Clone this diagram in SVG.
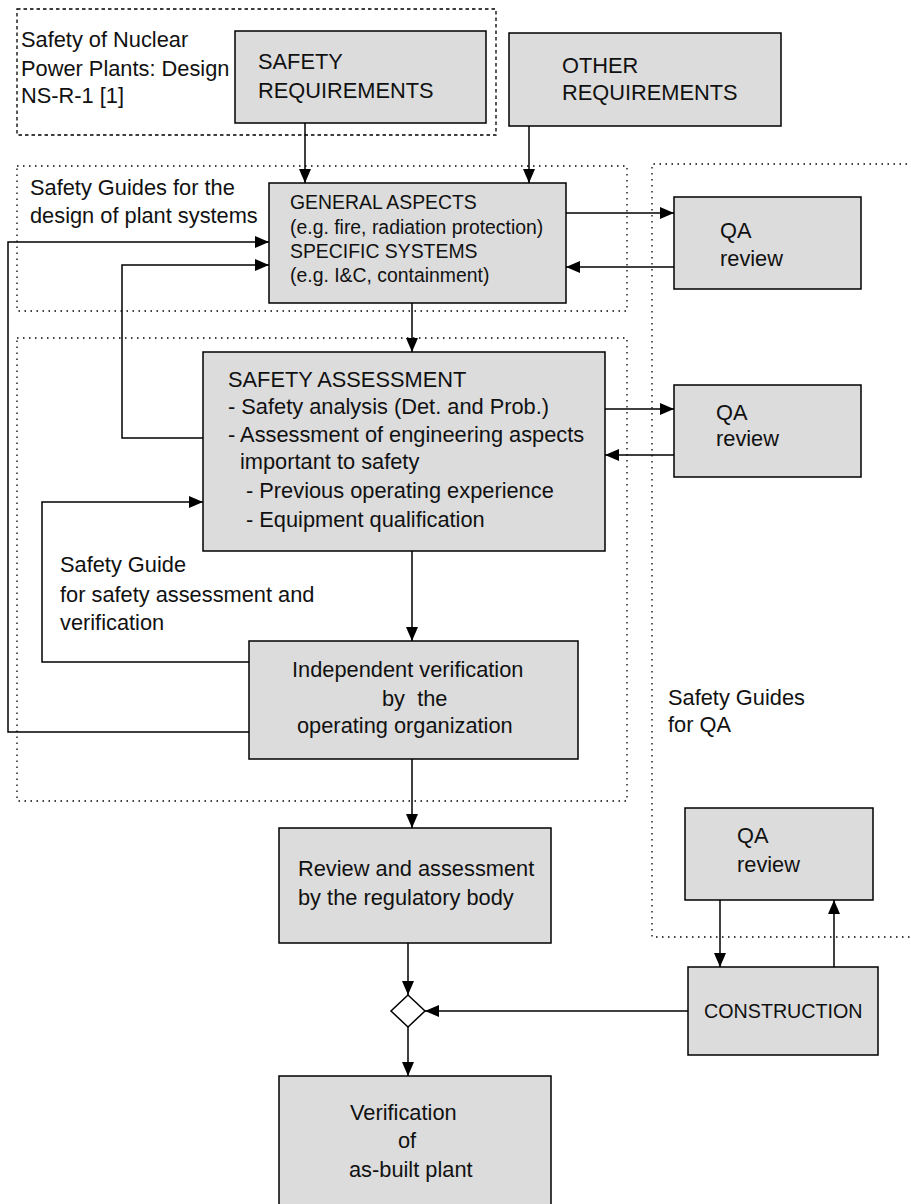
<svg xmlns="http://www.w3.org/2000/svg" width="911" height="1204" viewBox="0 0 911 1204">
<style>
.box{fill:#dcdcdc;stroke:#000;stroke-width:1.5}
.t{font-family:"Liberation Sans",Arial,sans-serif;font-size:21.8px;fill:#111}
.ts{font-family:"Liberation Sans",Arial,sans-serif;font-size:19.4px;fill:#111}
.dash{fill:none;stroke:#000;stroke-width:1.3;stroke-dasharray:3.5 3}
.dot{fill:none;stroke:#000;stroke-width:1.3;stroke-dasharray:1.5 4.5}
.c{fill:none;stroke:#000;stroke-width:1.5}
.ca{fill:none;stroke:#000;stroke-width:1.5;marker-end:url(#ah)}
</style>
<defs>
<marker id="ah" markerUnits="userSpaceOnUse" markerWidth="14" markerHeight="12" refX="14" refY="6" orient="auto">
<path d="M0,0 L14,6 L0,12 z" fill="#000"/>
</marker>
</defs>
<rect width="911" height="1204" fill="#fff"/>

<g id="regions">
<rect class="dash" x="17" y="9" width="479" height="126"/>
<rect class="dot" x="17" y="166" width="610" height="145"/>
<rect class="dot" x="17" y="338" width="610" height="463"/>
<path class="dot" d="M913,164 H652 V937 H913"/>
<text class="t"><tspan x="21" y="47">Safety of Nuclear</tspan><tspan x="21" y="76">Power Plants: Design</tspan><tspan x="21" y="103">NS-R-1 [1]</tspan></text>
<text class="t"><tspan x="30" y="195">Safety Guides for the</tspan><tspan x="30" y="223">design of plant systems</tspan></text>
<text class="t"><tspan x="60" y="572">Safety Guide</tspan><tspan x="60" y="602">for safety assessment and</tspan><tspan x="60" y="630">verification</tspan></text>
<text class="t"><tspan x="668" y="705">Safety Guides</tspan><tspan x="668" y="732">for QA</tspan></text>
</g>

<g id="connectors">
<line class="ca" x1="305" y1="123" x2="305" y2="183"/>
<line class="ca" x1="529" y1="126" x2="529" y2="183"/>
<line class="ca" x1="566" y1="213" x2="674" y2="213"/>
<line class="ca" x1="674" y1="267" x2="566" y2="267"/>
<line class="ca" x1="412" y1="303" x2="412" y2="352"/>
<line class="ca" x1="605" y1="409" x2="674" y2="409"/>
<line class="ca" x1="674" y1="455" x2="605" y2="455"/>
<polyline class="ca" points="203,438 122,438 122,265 269,265"/>
<polyline class="ca" points="249,732 8,732 8,242 269,242"/>
<polyline class="ca" points="249,662 42,662 42,502 203,502"/>
<line class="ca" x1="412" y1="551" x2="412" y2="641"/>
<line class="ca" x1="412" y1="759" x2="412" y2="828"/>
<line class="ca" x1="408" y1="943" x2="408" y2="995"/>
<line class="ca" x1="408" y1="1027" x2="408" y2="1076"/>
<line class="ca" x1="688" y1="1011" x2="425" y2="1011"/>
<line class="ca" x1="720" y1="900" x2="720" y2="967"/>
<line class="ca" x1="834" y1="967" x2="834" y2="900"/>
</g>

<g id="safety-requirements">
<rect class="box" x="235" y="31" width="251" height="92"/>
<text class="t"><tspan x="258" y="69">SAFETY</tspan><tspan x="258" y="98">REQUIREMENTS</tspan></text>
</g>
<g id="other-requirements">
<rect class="box" x="509" y="33" width="272" height="93"/>
<text class="t"><tspan x="562" y="73">OTHER</tspan><tspan x="562" y="100">REQUIREMENTS</tspan></text>
</g>
<g id="general-aspects">
<rect class="box" x="269" y="183" width="297" height="120"/>
<text class="ts"><tspan x="290" y="209">GENERAL ASPECTS</tspan><tspan x="290" y="234">(e.g. fire, radiation protection)</tspan><tspan x="290" y="258">SPECIFIC SYSTEMS</tspan><tspan x="290" y="282">(e.g. I&amp;C, containment)</tspan></text>
</g>
<g id="qa-review-1">
<rect class="box" x="674" y="197" width="187" height="92"/>
<text class="t"><tspan x="720" y="238">QA</tspan><tspan x="720" y="266">review</tspan></text>
</g>
<g id="safety-assessment">
<rect class="box" x="203" y="352" width="402" height="199"/>
<text class="t"><tspan x="228" y="387">SAFETY ASSESSMENT</tspan><tspan x="228" y="414">- Safety analysis (Det. and Prob.)</tspan><tspan x="228" y="442">- Assessment of engineering aspects</tspan><tspan x="240" y="469">important to safety</tspan><tspan x="246" y="498">- Previous operating experience</tspan><tspan x="246" y="527">- Equipment qualification</tspan></text>
</g>
<g id="qa-review-2">
<rect class="box" x="674" y="385" width="187" height="92"/>
<text class="t"><tspan x="716" y="420">QA</tspan><tspan x="716" y="446">review</tspan></text>
</g>
<g id="independent-verification">
<rect class="box" x="249" y="641" width="329" height="118"/>
<text class="t" style="white-space:pre"><tspan x="292" y="677">Independent verification</tspan><tspan x="382" y="706">by  the</tspan><tspan x="297" y="733">operating organization</tspan></text>
</g>
<g id="regulatory-review">
<rect class="box" x="279" y="828" width="272" height="115"/>
<text class="t"><tspan x="298" y="876">Review and assessment</tspan><tspan x="298" y="905">by the regulatory body</tspan></text>
</g>
<g id="qa-review-3">
<rect class="box" x="685" y="808" width="188" height="92"/>
<text class="t"><tspan x="737" y="843">QA</tspan><tspan x="737" y="872">review</tspan></text>
</g>
<g id="construction">
<rect class="box" x="688" y="967" width="190" height="88"/>
<text class="ts" style="font-size:19.7px" x="704" y="1018">CONSTRUCTION</text>
</g>
<g id="junction">
<polygon points="408,995 425,1011 408,1027 391,1011" fill="#fff" stroke="#000" stroke-width="1.5"/>
</g>
<g id="as-built-verification">
<rect class="box" x="279" y="1076" width="272" height="140"/>
<text class="t"><tspan x="350" y="1120">Verification</tspan><tspan x="398" y="1148">of</tspan><tspan x="349" y="1177">as-built plant</tspan></text>
</g>
</svg>
